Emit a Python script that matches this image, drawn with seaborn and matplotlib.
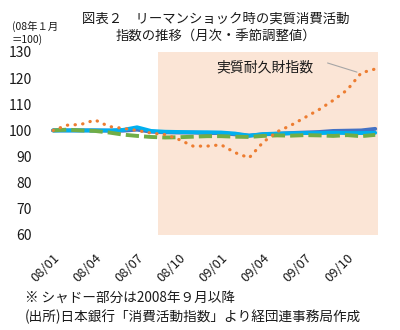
import matplotlib
matplotlib.use("Agg")
import matplotlib.pyplot as plt
import seaborn as sns
import pandas as pd
import numpy as np

months = ["08/01","08/02","08/03","08/04","08/05","08/06","08/07","08/08","08/09","08/10","08/11","08/12",
          "09/01","09/02","09/03","09/04","09/05","09/06","09/07","09/08","09/09","09/10","09/11","09/12"]
durable = [100, 102, 102.3, 104, 101.5, 100.8, 100, 99, 98.4, 96.5, 94, 94, 94.5, 91.5, 89.5, 95.5,
           99.5, 102, 105, 108, 111.5, 115.5, 122, 123.5]
total = [100, 100, 100, 100, 99.9, 99.9, 100.3, 99.5, 99.3, 99.2, 99.2, 99.0, 99.0, 98.5, 98.0, 98.5,
         98.7, 99.0, 99.2, 99.4, 99.8, 99.9, 100.0, 100.6]
services = [100, 100, 100, 100, 100, 100.2, 101.2, 99.8, 99.5, 99.4, 99.3, 99.3, 99.2, 98.8, 98.0, 98.6,
            98.8, 98.9, 99.0, 99.0, 99.1, 99.0, 99.0, 99.1]
nondurable = [100, 100.3, 100, 99.8, 99.2, 98.4, 97.9, 97.5, 97.3, 97.4, 97.6, 97.8, 97.8, 97.6, 97.5, 97.9,
              98.1, 98.0, 98.2, 98.1, 97.9, 98.2, 97.8, 98.3]
tick_labels = ["08/01","08/04","08/07","08/10","09/01","09/04","09/07","09/10"]
shade_start = "08/09"

sns.set_theme(style="white")
plt.rcParams['font.family'] = ['Noto Sans CJK JP', 'DejaVu Sans']
plt.rcParams['text.color'] = '#1a1a1a'
plt.rcParams['xtick.color'] = '#1a1a1a'
plt.rcParams['ytick.color'] = '#1a1a1a'

fig = plt.figure(figsize=(4.0, 3.3), dpi=100)
ax = fig.add_axes([46/400, (330-235)/330, (378-46)/400, (235-52)/330])

x = np.arange(len(months))
idx_shade = months.index(shade_start)
ax.axvspan(idx_shade - 0.5, len(months) - 0.8, color="#FBE5D6", lw=0, zorder=0)

sns.lineplot(x=x, y=total, ax=ax, color="#4472C4", lw=2.8, zorder=2)
sns.lineplot(x=x, y=services, ax=ax, color="#00B0F0", lw=2.8, zorder=3)
sns.lineplot(x=x, y=nondurable, ax=ax, color="#70AD47", lw=2.8, zorder=4)
ax.lines[-1].set_linestyle((0, (3.4, 1.3)))
sns.lineplot(x=x, y=durable, ax=ax, color="#ED7D31", lw=2.3, zorder=5)
ax.lines[-1].set_linestyle((0, (0.1, 2.3)))
ax.lines[-1].set_dash_capstyle("round")

ax.set_xlim(-0.5, len(months) - 0.8)
ax.set_ylim(60, 130)
ax.set_yticks(np.arange(60, 131, 10))
ax.set_yticklabels([str(v) for v in range(60, 131, 10)], fontsize=10)
tpos = [months.index(t) for t in tick_labels]
ax.set_xticks(tpos)
ax.set_xticklabels(tick_labels, rotation=45, ha="right", rotation_mode="anchor", fontsize=9.3)
ax.tick_params(axis="both", length=0)
ax.tick_params(axis="x", pad=12)
ax.tick_params(axis="y", pad=10)
for s in ax.spines.values():
    s.set_visible(False)
ax.set_xlabel("")
ax.set_ylabel("")

ax.text(15.1, 124.2, "実質耐久財指数", fontsize=10, ha="center", va="center", zorder=6)
ax.annotate("", xy=(21.7, 122.3), xytext=(19.6, 125.8),
            arrowprops=dict(arrowstyle="-", color="#A6A6A6", lw=0.8, shrinkA=0, shrinkB=0))

fig.text(0.54, 0.945, "図表２　リーマンショック時の実質消費活動", ha="center", va="center", fontsize=9.6)
fig.text(0.54, 0.888, "指数の推移（月次・季節調整値）", ha="center", va="center", fontsize=9.6)
fig.text(0.03, 0.9, "(08年１月\n＝100)", ha="left", va="center", fontsize=7.5, linespacing=1.15)
fig.text(0.063, 0.098, "※ シャドー部分は2008年９月以降", ha="left", va="center", fontsize=9.8)
fig.text(0.063, 0.040, "(出所)日本銀行「消費活動指数」より経団連事務局作成", ha="left", va="center", fontsize=9.8)

fig.savefig("out.png", dpi=100)
